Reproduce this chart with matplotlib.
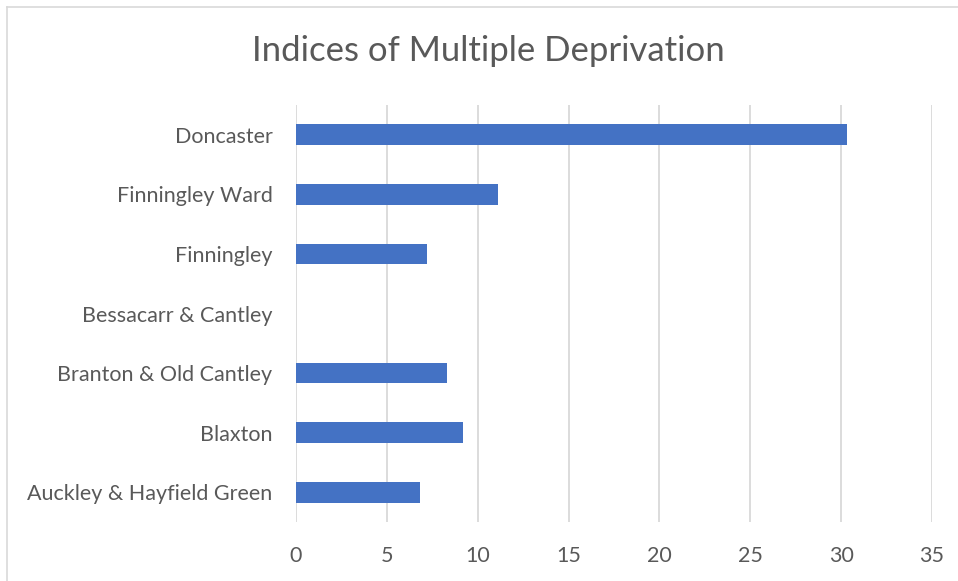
import matplotlib
matplotlib.use("Agg")
import matplotlib.pyplot as plt
from matplotlib.lines import Line2D

plt.rcParams['font.family'] = ['Lato', 'DejaVu Sans']

## data (bottom to top)
areas = ["Auckley & Hayfield Green", "Blaxton", "Branton & Old Cantley",
         "Bessacarr & Cantley", "Finningley", "Finningley Ward", "Doncaster"]
imd_scores = [6.8, 9.2, 8.3, 0, 7.2, 11.1, 30.3]
x_ticks = [0, 5, 10, 15, 20, 25, 30, 35]

text_grey = "#595959"
bar_blue = "#4472C4"

fig = plt.figure(figsize=(9.58, 5.81), dpi=100)
ax = fig.add_axes([296/958, 1 - 522/581, (932-296)/958, (522-105)/581])

ax.barh(areas, imd_scores, height=0.35, color=bar_blue, linewidth=0, zorder=3)

ax.set_xlim(0, 35)
ax.set_ylim(-0.5, len(areas) - 0.5)
ax.set_xticks(x_ticks)
ax.grid(axis="x", color="#d9d9d9", linewidth=1.3, zorder=0)
for s in ax.spines.values():
    s.set_visible(False)
ax.tick_params(axis="both", length=0, labelsize=15.5, colors=text_grey)
ax.tick_params(axis="x", pad=17)
ax.tick_params(axis="y", pad=17)

fig.text(488/958, 1 - 51/581, "Indices of Multiple Deprivation",
         ha="center", va="center", fontsize=25, color=text_grey)

# chart area border (only top/left visible in the crop)
fig.add_artist(Line2D([7/958, 1], [1 - 7/581, 1 - 7/581],
                      transform=fig.transFigure, color="#d9d9d9", linewidth=1.2))
fig.add_artist(Line2D([7/958, 7/958], [0, 1 - 7/581],
                      transform=fig.transFigure, color="#d9d9d9", linewidth=1.2))

plt.savefig("out.png", dpi=100)
